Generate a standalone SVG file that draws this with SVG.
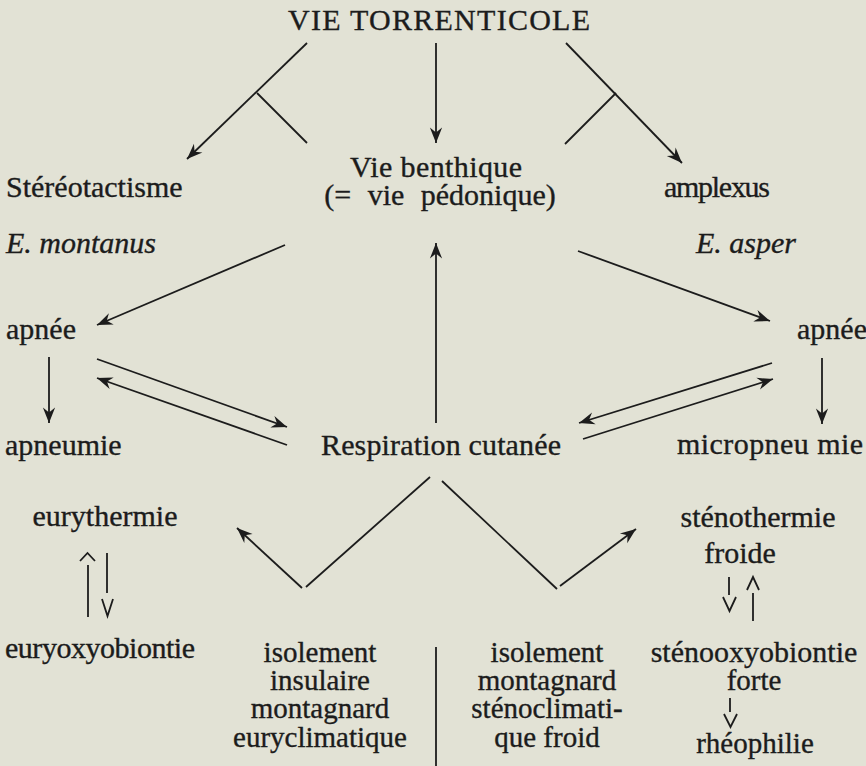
<svg xmlns="http://www.w3.org/2000/svg" width="866" height="766" viewBox="0 0 866 766">
<style>
text{font-family:"Liberation Serif","Times New Roman",serif;font-size:30px;fill:#1c1c1c;stroke:#1c1c1c;stroke-width:0.35}
.m{text-anchor:middle}
.i{font-style:italic}
.s{font-size:29px}
.c line,.c path,.c polyline{stroke:#1c1c1c;stroke-width:1.8;fill:none}
</style>
<defs>
<marker id="ah" markerUnits="userSpaceOnUse" markerWidth="20" markerHeight="20" refX="0" refY="0" viewBox="-16 -8 18 16" orient="auto">
<path d="M0,0 L-14,-5.5 L-9.5,0 L-14,5.5 Z" fill="#1c1c1c"/>
</marker>
</defs>
<rect width="866" height="766" fill="#e2e2d5"/>
<g id="connectors" class="c">
<line x1="307" y1="43" x2="187" y2="159" marker-end="url(#ah)"/>
<line x1="257" y1="93" x2="307" y2="143"/>
<line x1="436" y1="43" x2="436" y2="143" marker-end="url(#ah)"/>
<line x1="566" y1="43" x2="682" y2="163" marker-end="url(#ah)"/>
<line x1="616" y1="93" x2="565" y2="144"/>
<line x1="285" y1="245" x2="97" y2="325" marker-end="url(#ah)"/>
<line x1="578" y1="251" x2="770" y2="321" marker-end="url(#ah)"/>
<line x1="436" y1="423" x2="436" y2="243" marker-end="url(#ah)"/>
<line x1="49" y1="357" x2="49" y2="423" marker-end="url(#ah)"/>
<line x1="822" y1="358" x2="822" y2="424" marker-end="url(#ah)"/>
<line x1="97" y1="359" x2="287" y2="427" marker-end="url(#ah)"/>
<line x1="287" y1="445" x2="97" y2="378" marker-end="url(#ah)"/>
<line x1="772" y1="363" x2="579" y2="423" marker-end="url(#ah)"/>
<line x1="583" y1="439" x2="773" y2="379" marker-end="url(#ah)"/>
<line x1="302" y1="588" x2="237" y2="528" marker-end="url(#ah)"/>
<line x1="306" y1="587" x2="430" y2="477"/>
<line x1="442" y1="481" x2="557" y2="589"/>
<line x1="560" y1="586" x2="636" y2="529" marker-end="url(#ah)"/>
<polyline points="80,561 87.5,553 95,561"/>
<line x1="88" y1="565" x2="88" y2="617"/>
<line x1="107" y1="553" x2="107" y2="593"/>
<polyline points="102,599 107.5,616 113,599"/>
<line x1="729" y1="577" x2="729" y2="595"/>
<polyline points="723,597 729.5,611 736,597"/>
<polyline points="747,590 753,577 759,590"/>
<line x1="753" y1="593" x2="753" y2="621"/>
<line x1="730" y1="698" x2="730" y2="712"/>
<polyline points="724,714 730.5,727 737,714"/>
<line x1="436" y1="647" x2="436" y2="766"/>
</g>
<g id="vie-torrenticole"><text class="m" x="439" y="30" textLength="302">VIE TORRENTICOLE</text></g>
<g id="stereotactisme"><text x="6" y="197">Stéréotactisme</text></g>
<g id="vie-benthique"><text class="m" x="436" y="177" textLength="172">Vie benthique</text><text class="m" x="440" y="205" style="word-spacing:9px">(= vie pédonique)</text></g>
<g id="amplexus"><text class="m" x="717" y="197" textLength="106">amplexus</text></g>
<g id="e-montanus"><text class="i" x="6" y="253">E. montanus</text></g>
<g id="e-asper"><text class="i" x="696" y="253">E. asper</text></g>
<g id="apnee-left"><text x="6" y="339">apnée</text></g>
<g id="apnee-right"><text x="797" y="339">apnée</text></g>
<g id="apneumie"><text x="5" y="455">apneumie</text></g>
<g id="respiration-cutanee"><text class="m" x="441" y="455" textLength="240">Respiration cutanée</text></g>
<g id="micropneumie"><text x="677" y="454" textLength="186">micropneu mie</text></g>
<g id="eurythermie"><text class="m" x="105" y="526">eurythermie</text></g>
<g id="stenothermie"><text class="m" x="758" y="527">sténothermie</text><text class="m" x="740" y="563">froide</text></g>
<g id="euryoxyobiontie"><text x="5" y="658" textLength="190">euryoxyobiontie</text></g>
<g id="isolement-insulaire"><text class="m s" x="320" y="662">isolement</text><text class="m s" x="320" y="690">insulaire</text><text class="m s" x="320" y="718">montagnard</text><text class="m s" x="320" y="747">euryclimatique</text></g>
<g id="isolement-montagnard"><text class="m s" x="547" y="662">isolement</text><text class="m s" x="547" y="690">montagnard</text><text class="m s" x="547" y="718">sténoclimati-</text><text class="m s" x="547" y="747">que froid</text></g>
<g id="stenooxyobiontie"><text class="m" x="754" y="662">sténooxyobiontie</text><text class="m s" x="754" y="690">forte</text></g>
<g id="rheophilie"><text class="m s" x="755" y="753">rhéophilie</text></g>
</svg>
